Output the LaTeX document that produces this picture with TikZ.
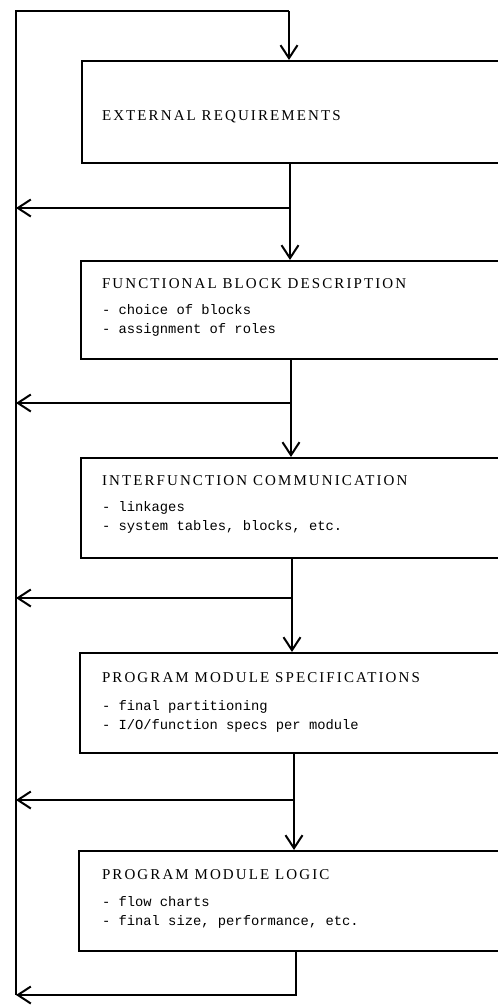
\documentclass[tikz,border=0pt]{standalone}
\usepackage{fontspec}
\setmainfont{Liberation Serif}
\newfontfamily\titlefont[LetterSpace=14]{Liberation Serif}
\newfontfamily\typefont{Liberation Mono}
\usetikzlibrary{arrows.meta}
\begin{document}
\begin{tikzpicture}[x=1bp,y=-1bp,
  line width=2bp,
  box/.style={draw, rectangle, anchor=north west, minimum width=450bp,
    inner sep=0pt, line width=2bp},
  title/.style={anchor=base west, inner sep=0pt, font=\titlefont\fontsize{15bp}{17bp}\selectfont},
  item/.style={anchor=base west, inner sep=0pt, align=left,
    font=\typefont\fontsize{13.8bp}{19bp}\selectfont},
  flow/.style={-{Straight Barb[length=13bp,width=17bp]}}]
\useasboundingbox (0,0) rectangle (498,1005);
\clip (0,0) rectangle (498,1005);

% stages
\node[box, minimum height=102bp] (b1) at (81,60) {};
\node[box, minimum height=98bp]  (b2) at (80,260) {};
\node[box, minimum height=100bp] (b3) at (80,457) {};
\node[box, minimum height=100bp] (b4) at (79,652) {};
\node[box, minimum height=100bp] (b5) at (78,850) {};

% stage texts
\node[title] (t1) at ([xshift=20bp, yshift=-60bp]b1.north west) {EXTERNAL REQUIREMENTS};
\node[title] (t2) at ([xshift=21bp, yshift=-28bp]b2.north west) {FUNCTIONAL BLOCK DESCRIPTION};
\node[item, anchor=north west] (i2) at ([xshift=21bp, yshift=-43bp]b2.north west) {- choice of blocks\\- assignment of roles};
\node[title] (t3) at ([xshift=21bp, yshift=-28bp]b3.north west) {INTERFUNCTION COMMUNICATION};
\node[item, anchor=north west] (i3) at ([xshift=21bp, yshift=-43bp]b3.north west) {- linkages\\- system tables, blocks, etc.};
\node[title] (t4) at ([xshift=22bp, yshift=-30bp]b4.north west) {PROGRAM MODULE SPECIFICATIONS};
\node[item, anchor=north west] (i4) at ([xshift=22bp, yshift=-47bp]b4.north west) {- final partitioning\\- I/O/function specs per module};
\node[title] (t5) at ([xshift=23bp, yshift=-29bp]b5.north west) {PROGRAM MODULE LOGIC};
\node[item, anchor=north west] (i5) at ([xshift=23bp, yshift=-45bp]b5.north west) {- flow charts\\- final size, performance, etc.};

% feedback rail and junctions
\coordinate (top) at (16,11);
\coordinate (rail) at (16,995);
\coordinate (j0) at (289,11);
\coordinate (j1) at (290,208);
\coordinate (j2) at (291,403);
\coordinate (j3) at (292,598);
\coordinate (j4) at (294,800);
\coordinate (j5) at (296,995);

\draw (rail) -- (top) -- (j0);
\draw[flow] (j0) -- (j0 |- b1.north);

\draw[flow] (j1 |- b1.south) -- (j1 |- b2.north);
\draw[flow] (j1) -- (j1 -| rail);
\draw[flow] (j2 |- b2.south) -- (j2 |- b3.north);
\draw[flow] (j2) -- (j2 -| rail);
\draw[flow] (j3 |- b3.south) -- (j3 |- b4.north);
\draw[flow] (j3) -- (j3 -| rail);
\draw[flow] (j4 |- b4.south) -- (j4 |- b5.north);
\draw[flow] (j4) -- (j4 -| rail);
\draw[flow] (j5 |- b5.south) -- (j5) -- (rail);
\end{tikzpicture}
\end{document}
